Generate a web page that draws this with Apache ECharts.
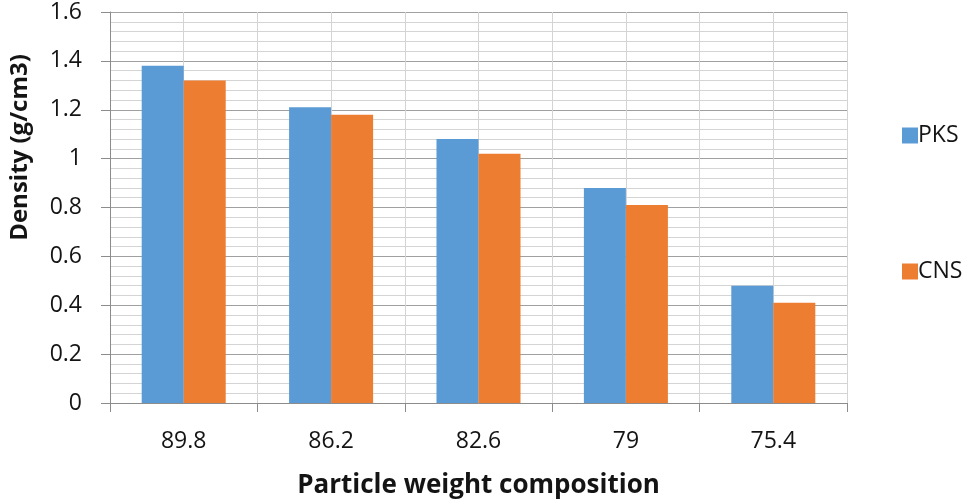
<!DOCTYPE html>
<html><head><meta charset="utf-8">
<script src="https://cdn.jsdelivr.net/npm/echarts@6/dist/echarts.min.js"></script>
<style>html,body{margin:0;padding:0;background:#fff}#c{width:968px;height:504px}</style>
</head><body><div id="c"></div>
<script>
const categories = ['89.8', '86.2', '82.6', '79', '75.4'];
const pksValues = [1.38, 1.21, 1.08, 0.88, 0.48];
const cnsValues = [1.32, 1.18, 1.02, 0.81, 0.41];
const seriesNames = ['PKS', 'CNS'];
const yTitle = 'Density (g/cm3)';
const xTitle = 'Particle weight composition';

const FONT = 'Open Sans';
const TXT = '#141414';
const chart = echarts.init(document.getElementById('c'));
chart.setOption({
  animation: false,
  color: ['#5B9BD5', '#ED7D31'],
  textStyle: { fontFamily: FONT },
  grid: { left: 108, right: 121, top: 12, bottom: 101, containLabel: false },
  legend: {
    orient: 'vertical', left: 897, top: 119,
    itemWidth: 16, itemHeight: 16, itemGap: 113,
    icon: 'rect',
    textStyle: { fontSize: 23, color: TXT, fontFamily: FONT, padding: [0, 0, 0, -5] },
    data: seriesNames
  },
  xAxis: [{
    type: 'category', data: categories,
    axisLine: { lineStyle: { color: '#8c8c8c', width: 1 } },
    axisTick: { show: true, length: 9, lineStyle: { color: '#8c8c8c' } },
    splitLine: { show: true, lineStyle: { color: '#a0a0a0', width: 1 } },
    axisLabel: { fontSize: 23, color: TXT, margin: 27, fontFamily: FONT },
    name: xTitle, nameLocation: 'middle', nameGap: 70,
    nameTextStyle: { fontSize: 26, fontWeight: 'bold', color: TXT, fontFamily: FONT }
  }, {
    type: 'value', min: 0, max: 5, interval: 0.5, position: 'bottom',
    axisLine: { show: false }, axisTick: { show: false }, axisLabel: { show: false },
    splitLine: { show: true, lineStyle: { color: '#d4d4d4', width: 1 } }
  }],
  yAxis: {
    type: 'value', min: 0, max: 1.6, interval: 0.2,
    axisLine: { show: true, lineStyle: { color: '#8c8c8c' } },
    axisTick: { show: true, length: 9, lineStyle: { color: '#8c8c8c' } },
    splitLine: { show: true, lineStyle: { color: '#a0a0a0', width: 1 } },
    minorTick: { show: false, splitNumber: 5 },
    minorSplitLine: { show: true, lineStyle: { color: '#d4d4d4', width: 1 } },
    axisLabel: { fontSize: 23, color: TXT, margin: 28, fontFamily: FONT,
      formatter: v => String(Math.round(v * 10) / 10) },
    name: yTitle, nameLocation: 'middle', nameGap: 78, nameRotate: 90,
    nameTextStyle: { fontSize: 24, fontWeight: 'bold', color: TXT, fontFamily: FONT, padding: [0, 0, 0, 120] }
  },
  series: [
    { name: seriesNames[0], type: 'bar', data: pksValues, xAxisIndex: 0,
      barGap: '0%', barCategoryGap: '43%' },
    { name: seriesNames[1], type: 'bar', data: cnsValues, xAxisIndex: 0,
      barGap: '0%', barCategoryGap: '43%' }
  ]
});
</script></body></html>
